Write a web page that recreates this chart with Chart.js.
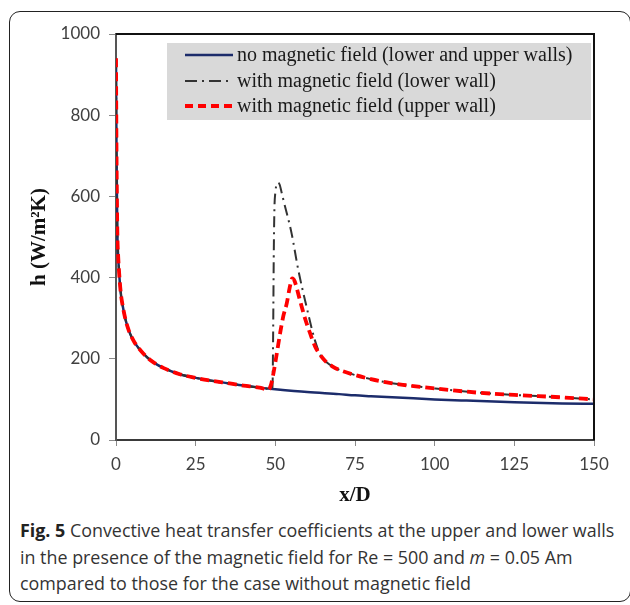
<!DOCTYPE html>
<html>
<head>
<meta charset="utf-8">
<script src="https://cdn.jsdelivr.net/npm/chart.js@4.4.1/dist/chart.umd.min.js"></script>
<style>
  html, body { margin: 0; padding: 0; background: #fff; width: 630px; height: 605px; overflow: hidden; }
  #frame { position: absolute; left: 9px; top: 11px; width: 622px; height: 591px; box-sizing: border-box;
           border: 1.6px solid #222; border-radius: 11px; }
  #wrap { position: absolute; left: 0; top: 0; width: 630px; height: 515px; }
  #caption { position: absolute; left: 20px; top: 517px; font-family: "Open Sans", sans-serif; color: #333;
             line-height: 26.5px; white-space: nowrap; }
  #caption b { color: #222; }
</style>
</head>
<body>
<div id="frame"></div>
<div id="wrap"><canvas id="c" width="630" height="515"></canvas></div>
<div id="caption">
  <div id="cap1"><b>Fig. 5</b> Convective heat transfer coefficients at the upper and lower walls</div>
  <div>in the presence of the magnetic field for Re = 500 and <i>m</i> = 0.05 Am</div>
  <div>compared to those for the case without magnetic field</div>
</div>
<script>
// ---- data ----
const seriesLabels = [
  "no magnetic field (lower and upper walls)",
  "with magnetic field (lower wall)",
  "with magnetic field (upper wall)"
];
const xTicks = [0, 25, 50, 75, 100, 125, 150];
const yTicks = [0, 200, 400, 600, 800, 1000];

const blueX = [0, 0.15, 0.4, 0.7, 1, 1.5, 2, 3, 4, 5, 6, 8, 10, 12, 15, 20, 25, 30, 35, 40, 45, 50, 60, 70, 75, 80, 90, 100, 110, 125, 140, 150];
const blueY = [940, 720, 520, 450, 410, 362, 335, 296, 270, 252, 238, 218, 202, 190, 177, 162, 153, 146, 140, 134, 129, 125, 118, 113, 110, 108, 104, 100, 97, 93, 90, 89];

const lowerX = [0, 0.15, 0.4, 0.7, 1, 1.5, 2, 3, 4, 5, 6, 8, 10, 12, 15, 20, 25, 30, 35, 40, 45, 48, 49.1, 49.3, 49.5, 49.7, 50.0, 50.4, 50.9, 51.4, 51.9, 52.6, 55.1, 57.2, 59.8, 62.4, 64.3, 66, 68, 70, 75, 80, 85, 90, 100, 113, 125, 140, 150];
const lowerY = [940, 720, 520, 450, 410, 362, 335, 296, 270, 252, 238, 218, 202, 190, 177, 162, 153, 146, 140, 134, 129, 126, 127, 250, 450, 565, 610, 628, 634, 628, 612, 589, 509, 419, 328, 246, 207, 192, 181, 173, 160, 150, 142, 136, 127, 117, 111, 105, 100];

const upperX = [0, 0.15, 0.4, 0.7, 1, 1.5, 2, 3, 4, 5, 6, 8, 10, 12, 15, 20, 25, 30, 35, 40, 45, 47.8, 48.6, 49.4, 50.5, 51.5, 52.5, 53.6, 54.5, 55.3, 56, 57.7, 59.3, 60.9, 62.5, 64.3, 66, 68, 70, 75, 80, 85, 90, 100, 113, 125, 140, 150];
const upperY = [940, 720, 520, 450, 410, 362, 335, 296, 270, 252, 238, 218, 202, 190, 177, 162, 153, 146, 140, 134, 129, 124, 135, 164, 215, 263, 305, 337, 375, 398, 392, 345, 300, 263, 230, 207, 192, 181, 173, 160, 150, 142, 136, 127, 117, 111, 105, 100];

const toPts = (xs, ys) => xs.map((x, i) => ({ x: x, y: ys[i] }));

// fit caption font size so first line matches reference width
(function () {
  const cap = document.getElementById('caption');
  const l1 = document.getElementById('cap1');
  cap.style.fontSize = '100px';
  const w = l1.getBoundingClientRect().width;
  cap.style.fontSize = (100 * 595 / w) + 'px';
})();

const legendPlugin = {
  id: 'boxLegend',
  afterDatasetsDraw(chart) {
    const ctx = chart.ctx;
    const area = chart.chartArea;
    ctx.save();
    // plot frame top/right
    ctx.strokeStyle = '#111';
    ctx.lineWidth = 2;
    ctx.beginPath();
    ctx.moveTo(area.left, area.top);
    ctx.lineTo(area.right, area.top);
    ctx.lineTo(area.right, area.bottom);
    ctx.stroke();
    // legend box
    ctx.fillStyle = '#d9d9d9';
    ctx.fillRect(167, 43, 424, 77);
    const rows = [55, 81, 106];
    ctx.font = '20px "Liberation Serif", "Times New Roman", serif';
    ctx.textBaseline = 'middle';
    chart.data.datasets.forEach((ds, i) => {
      const y = rows[i];
      ctx.save();
      ctx.strokeStyle = ds.borderColor;
      ctx.lineWidth = ds.borderWidth;
      ctx.setLineDash(ds.legendDash || []);
      ctx.beginPath();
      ctx.moveTo(185, y);
      ctx.lineTo(233, y);
      ctx.stroke();
      ctx.restore();
      ctx.fillStyle = '#1a1a1a';
      ctx.fillText(ds.label, 237, y + 1);
    });
    ctx.restore();
  }
};

new Chart(document.getElementById('c'), {
  type: 'line',
  data: {
    datasets: [
      { label: seriesLabels[0], data: toPts(blueX, blueY), borderColor: '#1c2c6b', borderWidth: 2.5,
        order: 3, legendDash: [] },
      { label: seriesLabels[1], data: toPts(lowerX, lowerY), borderColor: '#333333', borderWidth: 2,
        borderDash: [11, 5, 2, 5], order: 2, legendDash: [12, 5, 2, 5] },
      { label: seriesLabels[2], data: toPts(upperX, upperY), borderColor: '#ff0000', borderWidth: 3.8,
        borderDash: [9, 5], order: 1, legendDash: [8, 5] }
    ]
  },
  options: {
    responsive: false,
    animation: false,
    devicePixelRatio: 1,
    elements: { point: { radius: 0 }, line: { cubicInterpolationMode: 'monotone', fill: false } },
    layout: { padding: { top: 34, right: 36, left: 0, bottom: 0 } },
    plugins: { legend: { display: false }, tooltip: { enabled: false } },
    scales: {
      x: {
        type: 'linear', min: 0, max: 150,
        afterFit: s => { s.height = 75; },
        afterBuildTicks: s => { s.ticks = xTicks.map(v => ({ value: v })); },
        grid: { display: true, drawOnChartArea: false, drawTicks: true, tickLength: 6, color: '#8a8a8a' },
        border: { display: true, color: '#3a3a3a', width: 2 },
        ticks: { padding: 8, color: '#404040', font: { family: 'Lato', size: 17 }, maxRotation: 0,
                 callback: v => String(v) },
        title: { display: true, text: 'x/D', color: '#111', padding: { top: 0, bottom: 7 },
                 font: { family: '"Liberation Serif", serif', size: 21, weight: 'bold' } }
      },
      y: {
        type: 'linear', min: 0, max: 1000,
        afterFit: s => { s.width = 116; },
        afterBuildTicks: s => { s.ticks = yTicks.map(v => ({ value: v })); },
        grid: { display: true, drawOnChartArea: false, drawTicks: true, tickLength: 7, color: '#8a8a8a' },
        border: { display: true, color: '#555', width: 2 },
        ticks: { padding: 9, color: '#404040', font: { family: 'Lato', size: 17 }, callback: v => String(v) },
        title: { display: true, text: 'h (W/m²K)', color: '#111', padding: { top: 27, bottom: 0 },
                 font: { family: '"Liberation Serif", serif', size: 21, weight: 'bold' } }
      }
    }
  },
  plugins: [legendPlugin]
});
</script>
</body>
</html>
